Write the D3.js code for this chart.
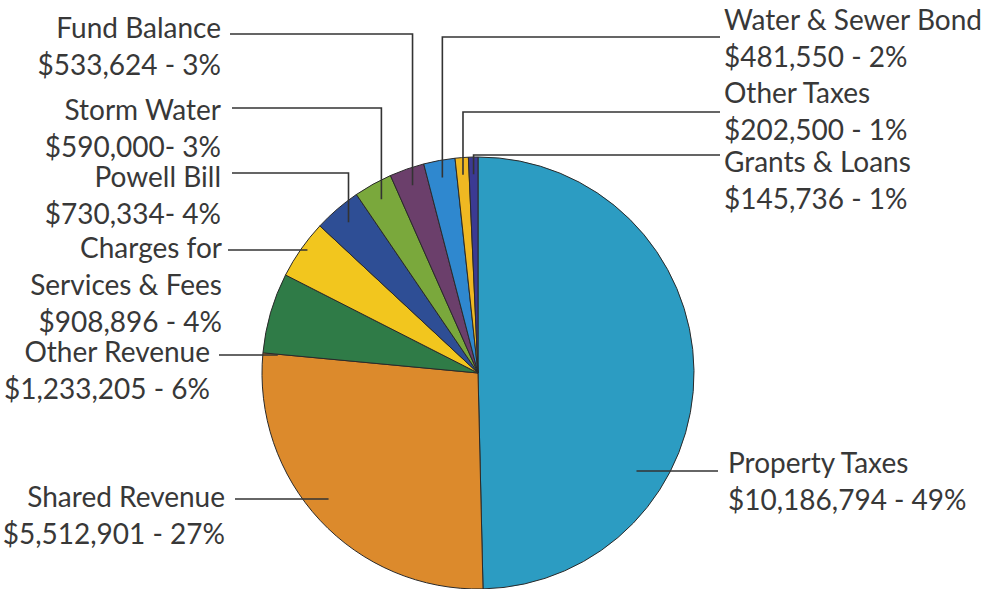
<!DOCTYPE html>
<html>
  <head>
    <meta charset="utf-8" />
    <script src="https://d3js.org/d3.v7.min.js"></script>
    <style>
    body { margin: 0; background: #fff; }
    text {
      font-family: "Lato", sans-serif;
      font-size: 28px;
      fill: #383838;
    }
    </style>
  </head>
  <body>
    <div id="chart"></div>
    <script>
// revenue sources, clockwise from 12 o'clock
var categories = ["Property Taxes", "Shared Revenue", "Other Revenue", "Charges for Services & Fees",
                  "Powell Bill", "Storm Water", "Fund Balance", "Water & Sewer Bond",
                  "Other Taxes", "Grants & Loans"];
var values = [10186794, 5512901, 1233205, 908896, 730334, 590000, 533624, 481550, 202500, 145736];
var amountLabels = ["$10,186,794 - 49%", "$5,512,901 - 27%", "$1,233,205 - 6%", "$908,896 - 4%",
                    "$730,334- 4%", "$590,000- 3%", "$533,624 - 3%", "$481,550 - 2%",
                    "$202,500 - 1%", "$145,736 - 1%"];
var nameLines = [["Property Taxes"], ["Shared Revenue"], ["Other Revenue"], ["Charges for", "Services & Fees"],
                 ["Powell Bill"], ["Storm Water"], ["Fund Balance"], ["Water & Sewer Bond"],
                 ["Other Taxes"], ["Grants & Loans"]];
var colors = ["#2c9cc2", "#dc8a2c", "#2f7b47", "#f2c61e", "#2e4e95", "#7aa83c",
              "#6b3f6b", "#2f88cf", "#efb822", "#3b3a93"];

// label placement: x of text, first baseline, leader y, leader kind
var layout = [
  {x: 728, y: 473, anchor: "start", ly: 471, lx: 718, kind: "flat", inset: 34},
  {x: 225, y: 507, anchor: "end", ly: 499, lx: 235, kind: "flat", inset: 26},
  {x: 210, y: 362, anchor: "end", ly: 355, lx: 219, kind: "flat", inset: 15},
  {x: 222, y: 258, anchor: "end", ly: 250, lx: 228, kind: "flat", inset: 7},
  {x: 221, y: 187, anchor: "end", ly: 173, lx: 232, kind: "elbow"},
  {x: 221, y: 120, anchor: "end", ly: 108, lx: 232, kind: "elbow"},
  {x: 221, y: 38, anchor: "end", ly: 34, lx: 230, kind: "elbow"},
  {x: 724, y: 30, anchor: "start", ly: 37, lx: 720, kind: "elbow"},
  {x: 724, y: 103, anchor: "start", ly: 112, lx: 720, kind: "elbow"},
  {x: 724, y: 172, anchor: "start", ly: 155, lx: 720, kind: "elbow"}
];

var width = 984, height = 589,
    cx = 478, cy = 373, radius = 216,
    lineGap = 37;

var svg = d3.select("#chart").append("svg")
    .attr("width", width)
    .attr("height", height);

var pie = d3.pie().sort(null).value(function(d) { return d; });
var arc = d3.arc().innerRadius(0).outerRadius(radius);
var arcs = pie(values);

var g = svg.append("g").attr("transform", "translate(" + cx + "," + cy + ")");

g.selectAll("path.slice")
  .data(arcs)
  .enter().append("path")
    .attr("class", "slice")
    .attr("d", arc)
    .style("fill", function(d, i) { return colors[i]; })
    .style("stroke", "#2a2a2a")
    .style("stroke-width", 1)
    .style("stroke-linejoin", "round");

function pointAt(angle, rr) {
  return [cx + rr * Math.sin(angle), cy - rr * Math.cos(angle)];
}

// leader lines
var leaders = svg.append("g").attr("class", "leaders");
arcs.forEach(function(d, i) {
  var L = layout[i], pts;
  var mid = (d.startAngle + d.endAngle) / 2;
  if (L.kind === "elbow") {
    var p = pointAt(mid, radius * 0.92);
    pts = [[L.lx, L.ly], [p[0], L.ly], [p[0], p[1]]];
  } else {
    var dy = L.ly - cy;
    var edge = Math.sqrt(radius * radius - dy * dy);
    var side = Math.sin(mid) >= 0 ? 1 : -1;
    pts = [[L.lx, L.ly], [cx + side * (edge - L.inset), L.ly]];
  }
  leaders.append("path")
    .attr("d", d3.line()(pts))
    .style("fill", "none")
    .style("stroke", "#333")
    .style("stroke-width", 1.6);
});

// labels
var labels = svg.append("g").attr("class", "labels");
arcs.forEach(function(d, i) {
  var L = layout[i];
  var lines = nameLines[i].concat([amountLabels[i]]);
  var t = labels.append("text")
    .attr("text-anchor", L.anchor);
  lines.forEach(function(s, j) {
    t.append("tspan")
      .attr("x", L.x)
      .attr("y", L.y + j * lineGap)
      .text(s);
  });
});
    </script>
  </body>
</html>
